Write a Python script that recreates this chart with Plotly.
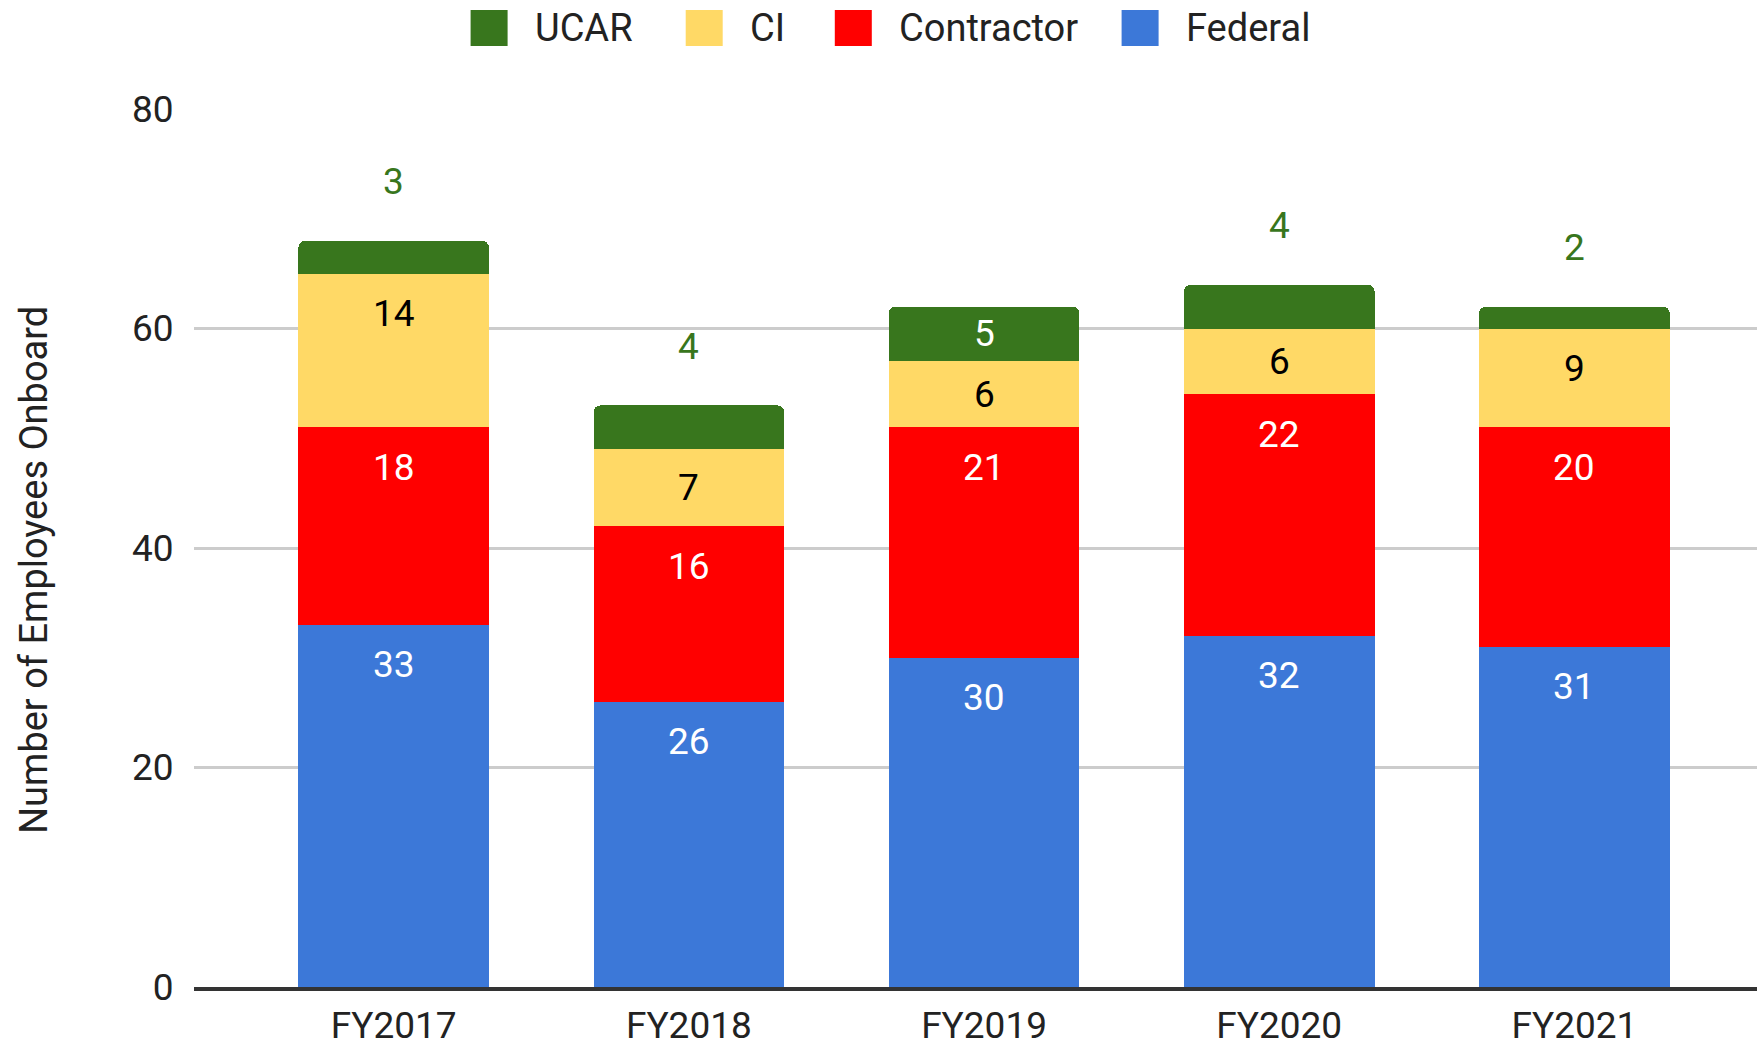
import plotly.graph_objects as go

# ---- data ----
categories = ["FY2017", "FY2018", "FY2019", "FY2020", "FY2021"]
federal = [33, 26, 30, 32, 31]
contractor = [18, 16, 21, 22, 20]
ci = [14, 7, 6, 6, 9]
ucar = [3, 4, 5, 4, 2]
y_ticks = [0, 20, 40, 60, 80]

series_names = ["Federal", "Contractor", "CI", "UCAR"]
series_values = [federal, contractor, ci, ucar]

# ---- styles ----
bar_colors = {"Federal": "#3c78d8", "Contractor": "#ff0000", "CI": "#ffd966", "UCAR": "#38761d"}
label_colors = {"Federal": "#ffffff", "Contractor": "#ffffff", "CI": "#000000", "UCAR": "#ffffff"}
outside_label_color = "#38761d"
FONT = "Roboto, Arial, sans-serif"
FS = 37

W, H = 1757, 1046
L, R, T, B = 194, 1757, 109, 987  # plot area in px


def px_x(px):
    return (px - L) / (R - L)


def px_y(py):
    return (B - py) / (B - T)


fig = go.Figure()
for name, vals in zip(series_names, series_values):
    fig.add_trace(go.Bar(
        x=categories, y=vals, name=name,
        marker=dict(color=bar_colors[name], line=dict(width=0)),
        showlegend=False,
    ))

annotations = []
base = [0] * len(categories)
for name, vals in zip(series_names, series_values):
    for i, (c, v) in enumerate(zip(categories, vals)):
        top = base[i] + v
        if name == "UCAR" and v < 5:
            annotations.append(dict(x=c, y=top, xref="x", yref="y", text=str(v),
                                    showarrow=False, yshift=59, yanchor="middle",
                                    font=dict(family=FONT, size=FS, color=outside_label_color)))
        else:
            ylab = max(base[i] + v / 2, top - 3.65)
            annotations.append(dict(x=c, y=ylab, xref="x", yref="y", text=str(v),
                                    showarrow=False, yanchor="middle",
                                    font=dict(family=FONT, size=FS, color=label_colors[name])))
        base[i] = top

# y-axis title
annotations.append(dict(x=px_x(34), y=px_y(570), xref="paper", yref="paper",
                        text="Number of Employees Onboard", textangle=-90, showarrow=False,
                        xanchor="center", yanchor="middle",
                        font=dict(family=FONT, size=38, color="#222222")))

# custom legend (order as in reference)
legend_order = ["UCAR", "CI", "Contractor", "Federal"]
legend_swatch_left = [470.6, 685.7, 834.8, 1121.6]
shapes = []
sw, sh, ly = 37, 36, 28
for name, x0 in zip(legend_order, legend_swatch_left):
    shapes.append(dict(type="rect", xref="paper", yref="paper",
                       x0=px_x(x0), x1=px_x(x0 + sw), y0=px_y(ly + sh / 2), y1=px_y(ly - sh / 2),
                       fillcolor=bar_colors[name], line=dict(width=0), layer="above"))
    annotations.append(dict(x=px_x(x0 + 62), y=px_y(ly), xref="paper", yref="paper",
                            text=name, showarrow=False, xanchor="left", yanchor="middle",
                            font=dict(family=FONT, size=38, color="#222222")))

fig.update_layout(
    width=W, height=H,
    margin=dict(l=L, r=W - R, t=T, b=H - B, autoexpand=False),
    paper_bgcolor="white", plot_bgcolor="white",
    barmode="stack", bargap=0.354, barcornerradius=7,
    font=dict(family=FONT, size=FS, color="#222222"),
    showlegend=False,
    annotations=annotations, shapes=shapes,
    xaxis=dict(range=[-0.6765, 4.6186], showgrid=False, showline=True, linecolor="#333333",
               linewidth=3.5, ticks="outside", ticklen=3, tickcolor="rgba(0,0,0,0)",
               tickfont=dict(family=FONT, size=FS, color="#222222"), automargin=False),
    yaxis=dict(range=[0, 80], tickvals=y_ticks, showgrid=True, gridcolor="#cccccc", gridwidth=2.5,
               zeroline=False, showline=False, ticks="outside", ticklen=12,
               tickcolor="rgba(0,0,0,0)",
               tickfont=dict(family=FONT, size=FS, color="#222222"), automargin=False),
)

fig.write_html(
    "out.html",
    config={"displayModeBar": False},
    post_script="document.body.style.margin='0';document.body.style.overflow='hidden';",
)
